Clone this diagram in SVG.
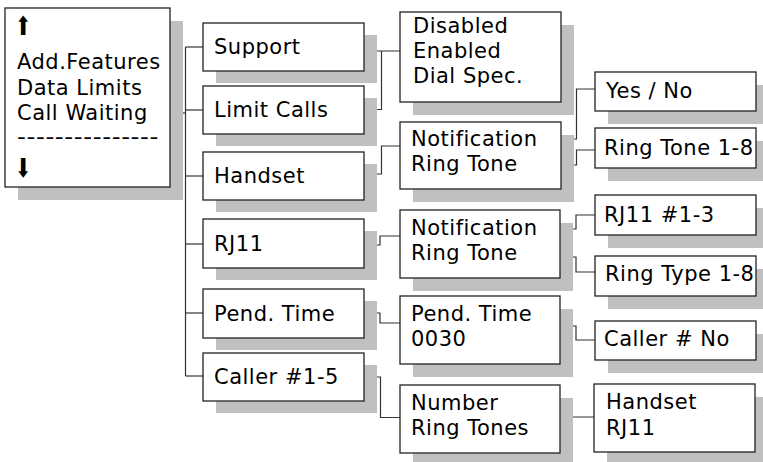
<svg xmlns="http://www.w3.org/2000/svg" width="763" height="462" viewBox="0 0 763 462">
<style>
.sh{fill:#c0c0c0;stroke:none}
.bx{fill:#fff;stroke:#222;stroke-width:1.3}
.t{font-family:"DejaVu Sans","Verdana",sans-serif;font-size:21px;letter-spacing:0.5px;fill:#000}
.ar{font-family:"DejaVu Sans",sans-serif;font-size:26px;fill:#000}
.c{fill:none;stroke:#333;stroke-width:1.2}
</style>
<rect x="0" y="0" width="763" height="462" fill="#fff"/>
<g id="connectors">
<polyline class="c" points="170,113 185.5,113"/>
<polyline class="c" points="185.5,47 185.5,376"/>
<polyline class="c" points="185.5,47 203,47"/>
<polyline class="c" points="185.5,110 203,110"/>
<polyline class="c" points="185.5,176 203,176"/>
<polyline class="c" points="185.5,244 203,244"/>
<polyline class="c" points="185.5,313 203,313"/>
<polyline class="c" points="185.5,376 203,376"/>
<polyline class="c" points="364,51 400,51"/>
<polyline class="c" points="365,109.5 381.5,109.5 381.5,51"/>
<polyline class="c" points="364,174 381.5,174 381.5,146 400,146"/>
<polyline class="c" points="364,245 380,245 380,236 400,236"/>
<polyline class="c" points="364,313 380,313 380,323 400,323"/>
<polyline class="c" points="364,377 380.5,377 380.5,417.5 400,417.5"/>
<polyline class="c" points="561,139 576.5,139 576.5,89 595,89"/>
<polyline class="c" points="561,165 576.5,165 576.5,150 595,150"/>
<polyline class="c" points="560,229 576,229 576,215 595,215"/>
<polyline class="c" points="560,257 576,257 576,272 595,272"/>
<polyline class="c" points="560,326 576,326 576,340 595,340"/>
<polyline class="c" points="560,417 594,417"/>
</g>
<g id="main">
<rect class="sh" x="18" y="21" width="165" height="179"/>
<rect class="bx" x="5" y="8" width="165" height="179"/>
<text class="ar" transform="translate(15,35) scale(0.75,1)">⬆</text>
<text class="t" x="17" y="69">Add.Features</text>
<text class="t" x="17" y="95">Data Limits</text>
<text class="t" x="17" y="120">Call Waiting</text>
<text class="t" x="17" y="144" textLength="142" lengthAdjust="spacingAndGlyphs">---------------</text>
<text class="ar" transform="translate(15,177) scale(0.75,1)">⬇</text>
</g>
<g id="support">
<rect class="sh" x="216" y="35" width="161" height="48"/>
<rect class="bx" x="203" y="23" width="161" height="48"/>
<text class="t" x="214" y="54">Support</text>
</g>
<g id="limit-calls">
<rect class="sh" x="216" y="98" width="161" height="48"/>
<rect class="bx" x="203" y="86" width="161" height="48"/>
<text class="t" x="214" y="117">Limit Calls</text>
</g>
<g id="handset">
<rect class="sh" x="216" y="164" width="161" height="48"/>
<rect class="bx" x="203" y="152" width="161" height="48"/>
<text class="t" x="214" y="183">Handset</text>
</g>
<g id="rj11">
<rect class="sh" x="216" y="231" width="161" height="49"/>
<rect class="bx" x="203" y="219" width="161" height="49"/>
<text class="t" x="214" y="251">RJ11</text>
</g>
<g id="pend-time">
<rect class="sh" x="216" y="301" width="161" height="49"/>
<rect class="bx" x="203" y="289" width="161" height="49"/>
<text class="t" x="214" y="321">Pend. Time</text>
</g>
<g id="caller">
<rect class="sh" x="216" y="365" width="161" height="48"/>
<rect class="bx" x="203" y="353" width="161" height="48"/>
<text class="t" x="214" y="384">Caller #1-5</text>
</g>
<g id="support-options">
<rect class="sh" x="413" y="25" width="161" height="90"/>
<rect class="bx" x="400" y="12" width="161" height="90"/>
<text class="t" x="413" y="33">Disabled</text>
<text class="t" x="413" y="58">Enabled</text>
<text class="t" x="413" y="83">Dial Spec.</text>
</g>
<g id="handset-notification">
<rect class="sh" x="413" y="135" width="161" height="67"/>
<rect class="bx" x="400" y="122" width="161" height="67"/>
<text class="t" x="411" y="146">Notification</text>
<text class="t" x="411" y="171">Ring Tone</text>
</g>
<g id="rj11-notification">
<rect class="sh" x="413" y="223" width="160" height="68"/>
<rect class="bx" x="400" y="210" width="160" height="68"/>
<text class="t" x="411" y="235">Notification</text>
<text class="t" x="411" y="260">Ring Tone</text>
</g>
<g id="pend-time-value">
<rect class="sh" x="413" y="309" width="160" height="68"/>
<rect class="bx" x="400" y="296" width="160" height="68"/>
<text class="t" x="411" y="321">Pend. Time</text>
<text class="t" x="411" y="346">0030</text>
</g>
<g id="number-ring-tones">
<rect class="sh" x="413" y="398" width="160" height="68"/>
<rect class="bx" x="400" y="385" width="160" height="68"/>
<text class="t" x="411" y="410">Number</text>
<text class="t" x="411" y="435">Ring Tones</text>
</g>
<g id="yes-no">
<rect class="sh" x="608" y="85" width="161" height="39"/>
<rect class="bx" x="595" y="72" width="161" height="39"/>
<text class="t" x="606" y="98">Yes / No</text>
</g>
<g id="ring-tone">
<rect class="sh" x="608" y="141" width="161" height="40"/>
<rect class="bx" x="595" y="128" width="161" height="40"/>
<text class="t" x="604" y="155">Ring Tone 1-8</text>
</g>
<g id="rj11-range">
<rect class="sh" x="608" y="208" width="161" height="40"/>
<rect class="bx" x="595" y="195" width="161" height="40"/>
<text class="t" x="604" y="222">RJ11 #1-3</text>
</g>
<g id="ring-type">
<rect class="sh" x="608" y="269" width="161" height="40"/>
<rect class="bx" x="595" y="256" width="161" height="40"/>
<text class="t" x="605" y="281">Ring Type 1-8</text>
</g>
<g id="caller-no">
<rect class="sh" x="608" y="334" width="161" height="39"/>
<rect class="bx" x="595" y="321" width="161" height="39"/>
<text class="t" x="604" y="346">Caller # No</text>
</g>
<g id="handset-rj11">
<rect class="sh" x="607" y="397" width="161" height="68"/>
<rect class="bx" x="594" y="384" width="161" height="68"/>
<text class="t" x="606" y="409">Handset</text>
<text class="t" x="606" y="435">RJ11</text>
</g>
</svg>
